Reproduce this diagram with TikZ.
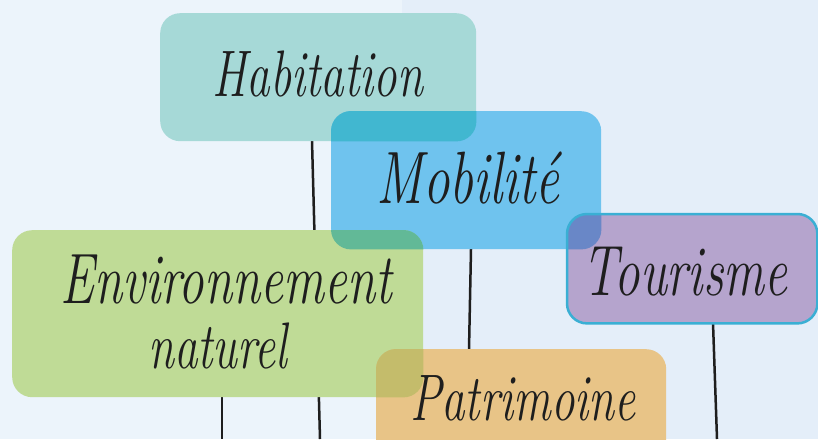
\documentclass[tikz,border=0pt]{standalone}
\usepackage{graphicx}
\definecolor{bgl}{HTML}{ECF4FB}
\definecolor{bgr}{HTML}{E4EEF9}
\definecolor{habc}{HTML}{A6D9D7}
\definecolor{mobc}{HTML}{6FC3EE}
\definecolor{tourc}{HTML}{B5A4CD}
\definecolor{tourb}{HTML}{3AAFD4}
\definecolor{envc}{HTML}{BFDB96}
\definecolor{patc}{HTML}{E8C487}
\definecolor{habmob}{HTML}{41B7D0}
\definecolor{mobtour}{HTML}{6987C7}
\definecolor{mobenv}{HTML}{62B997}
\definecolor{envpat}{HTML}{C4BC6B}
\definecolor{ink}{HTML}{1E1E1E}
\newcommand{\tallword}[1]{\scalebox{1}[1.4]{#1}}
\tikzset{
  box/.style={rectangle, rounded corners=20pt, draw=none, inner sep=0pt, anchor=north west},
  stick/.style={draw=ink, line width=2.5pt},
  lbl/.style={text=ink, inner sep=0pt, font=\fontsize{47}{52}\selectfont\itshape},
  ovl/.style={rounded corners=20pt}
}
\begin{document}
\begin{tikzpicture}[x=1pt,y=-1pt]
\useasboundingbox (0,0) rectangle (818,439);
\fill[bgl] (0,0) rectangle (402,439);
\fill[bgr] (402,0) rectangle (818,439);
% stick ends
\coordinate (habtop) at (312,141);
\coordinate (habbot) at (320,439);
\coordinate (mobtop) at (471,249);
\coordinate (mobbot) at (469,350);
\coordinate (tourtop) at (713,323);
\coordinate (tourbot) at (717,439);
\coordinate (envtop) at (222,396);
\coordinate (envbot) at (222,439);
\draw[stick] (habtop) -- (habbot);
\draw[stick] (mobtop) -- (mobbot);
\draw[stick] (tourtop) -- (tourbot);
\draw[stick] (envtop) -- (envbot);
% boxes
\node[box, fill=habc, minimum width=316pt, minimum height=128pt] (hab) at (160,13) {};
\node[box, fill=mobc, minimum width=270pt, minimum height=138pt] (mob) at (331,111) {};
\node[box, fill=tourc, minimum width=250pt, minimum height=109pt] (tour) at (567,214) {};
\node[box, fill=envc, minimum width=411pt, minimum height=167pt] (env) at (12,230) {};
\node[box, fill=patc, minimum width=290pt, minimum height=120pt] (pat) at (376,349) {};
% overlaps
\begin{scope}
\clip[ovl] (hab.south west) rectangle (hab.north east);
\fill[ovl, habmob] (mob.south west) rectangle (mob.north east);
\end{scope}
\begin{scope}
\clip[ovl] (mob.south west) rectangle (mob.north east);
\fill[ovl, mobtour] (tour.south west) rectangle (tour.north east);
\end{scope}
\begin{scope}
\clip[ovl] (mob.south west) rectangle (mob.north east);
\fill[ovl, mobenv] (env.south west) rectangle (env.north east);
\end{scope}
\begin{scope}
\clip[ovl] (env.south west) rectangle (env.north east);
\fill[ovl, envpat] (pat.south west) rectangle (pat.north east);
\end{scope}
\draw[ovl, tourb, line width=2.5pt] (tour.south west) rectangle (tour.north east);
% labels
\node[lbl] (habt) at (318,74) {\tallword{Habitation}};
\node[lbl, font=\fontsize{53}{58}\selectfont\itshape] (mobt) at (468,178) {\tallword{Mobilité}};
\node[lbl, font=\fontsize{51}{56}\selectfont\itshape] (tourt) at (685,272) {\tallword{Tourisme}};
\node[lbl, font=\fontsize{51}{56}\selectfont\itshape] (envt) at (226,280) {\tallword{Environnement}};
\node[lbl] (natt) at (218,346) {\tallword{naturel}};
\node[lbl] (patt) at (523,398) {\tallword{Patrimoine}};
\end{tikzpicture}
\end{document}
